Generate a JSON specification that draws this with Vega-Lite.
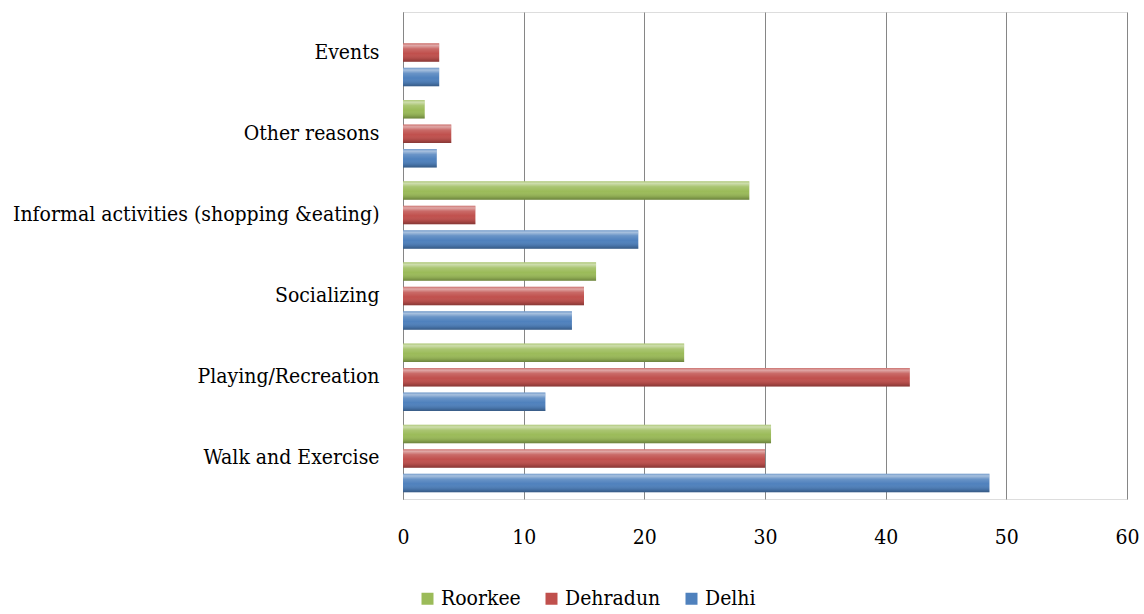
{
  "$schema": "https://vega.github.io/schema/vega-lite/v6.json",
  "width": 724,
  "height": 487,
  "autosize": {"type": "none"},
  "padding": {"left": 403, "top": 12, "right": 17, "bottom": 115},
  "background": "white",
  "config": {
    "font": "'DejaVu Serif Condensed', 'DejaVu Serif'"
  },
  "data": {
    "values": [
      {"activity": "Events", "city": "Dehradun", "percent": 3},
      {"activity": "Events", "city": "Delhi", "percent": 3},
      {"activity": "Other reasons\u00a0", "city": "Roorkee", "percent": 1.8},
      {"activity": "Other reasons\u00a0", "city": "Dehradun", "percent": 4},
      {"activity": "Other reasons\u00a0", "city": "Delhi", "percent": 2.8},
      {"activity": "Informal activities (shopping &eating)", "city": "Roorkee", "percent": 28.7},
      {"activity": "Informal activities (shopping &eating)", "city": "Dehradun", "percent": 6},
      {"activity": "Informal activities (shopping &eating)", "city": "Delhi", "percent": 19.5},
      {"activity": "Socializing", "city": "Roorkee", "percent": 16},
      {"activity": "Socializing", "city": "Dehradun", "percent": 15},
      {"activity": "Socializing", "city": "Delhi", "percent": 14},
      {"activity": "Playing/Recreation\u00a0", "city": "Roorkee", "percent": 23.3},
      {"activity": "Playing/Recreation\u00a0", "city": "Dehradun", "percent": 42},
      {"activity": "Playing/Recreation\u00a0", "city": "Delhi", "percent": 11.8},
      {"activity": "Walk and Exercise", "city": "Roorkee", "percent": 30.5},
      {"activity": "Walk and Exercise", "city": "Dehradun", "percent": 30},
      {"activity": "Walk and Exercise", "city": "Delhi", "percent": 48.6}
    ]
  },
  "encoding": {
    "y": {
      "field": "activity",
      "type": "nominal",
      "sort": [
        "Events",
        "Other reasons\u00a0",
        "Informal activities (shopping &eating)",
        "Socializing",
        "Playing/Recreation\u00a0",
        "Walk and Exercise"
      ],
      "scale": {"paddingInner": 0, "paddingOuter": 0},
      "axis": {
        "title": null,
        "domain": true,
        "domainColor": "#868686",
        "domainWidth": 1,
        "ticks": false,
        "grid": false,
        "labelFont": "'DejaVu Serif Condensed', 'DejaVu Serif'",
        "labelFontSize": 21,
        "labelColor": "#000000",
        "labelPadding": 24,
        "labelLimit": 500
      }
    },
    "yOffset": {
      "field": "city",
      "type": "nominal",
      "sort": ["Roorkee", "Dehradun", "Delhi"],
      "scale": {
        "domain": ["Roorkee", "Dehradun", "Delhi"],
        "paddingInner": 0.245,
        "paddingOuter": 0.28
      }
    },
    "x": {
      "field": "percent",
      "type": "quantitative",
      "scale": {"domain": [0, 60], "nice": false},
      "axis": {
        "title": null,
        "domain": false,
        "ticks": false,
        "grid": true,
        "gridColor": "#868686",
        "gridOpacity": 1,
        "gridWidth": 1,
        "values": [0, 10, 20, 30, 40, 50, 60],
        "labelFont": "'DejaVu Serif Condensed', 'DejaVu Serif'",
        "labelFontSize": 21,
        "labelColor": "#000000",
        "labelPadding": 27,
        "labelFlush": false
      }
    }
  },
  "layer": [
    {
      "mark": {"type": "bar"},
      "encoding": {
        "color": {
          "field": "city",
          "type": "nominal",
          "sort": ["Roorkee", "Dehradun", "Delhi"],
          "scale": {
            "domain": ["Roorkee", "Dehradun", "Delhi"],
            "range": ["#9BBB59", "#C0504D", "#4F81BD"]
          },
          "legend": {
            "title": null,
            "orient": "none",
            "legendX": 14,
            "legendY": 576,
            "direction": "horizontal",
            "symbolType": "square",
            "symbolSize": 144,
            "symbolStrokeWidth": 0,
            "symbolOpacity": 1,
            "labelFont": "'DejaVu Serif Condensed', 'DejaVu Serif'",
            "labelFontSize": 21,
            "labelColor": "#000000",
            "labelOffset": 3,
            "columnPadding": 20,
            "padding": 0
          }
        }
      }
    },
    {
      "mark": {
        "type": "bar",
        "fill": {
          "gradient": "linear",
          "x1": 0,
          "y1": 0,
          "x2": 0,
          "y2": 1,
          "stops": [
            {"offset": 0, "color": "rgba(255,255,255,0.2)"},
            {"offset": 0.12, "color": "rgba(255,255,255,0.5)"},
            {"offset": 0.3, "color": "rgba(255,255,255,0.15)"},
            {"offset": 0.55, "color": "rgba(255,255,255,0)"},
            {"offset": 0.85, "color": "rgba(0,0,0,0.12)"},
            {"offset": 1, "color": "rgba(0,0,0,0.3)"}
          ]
        }
      }
    }
  ]
}
